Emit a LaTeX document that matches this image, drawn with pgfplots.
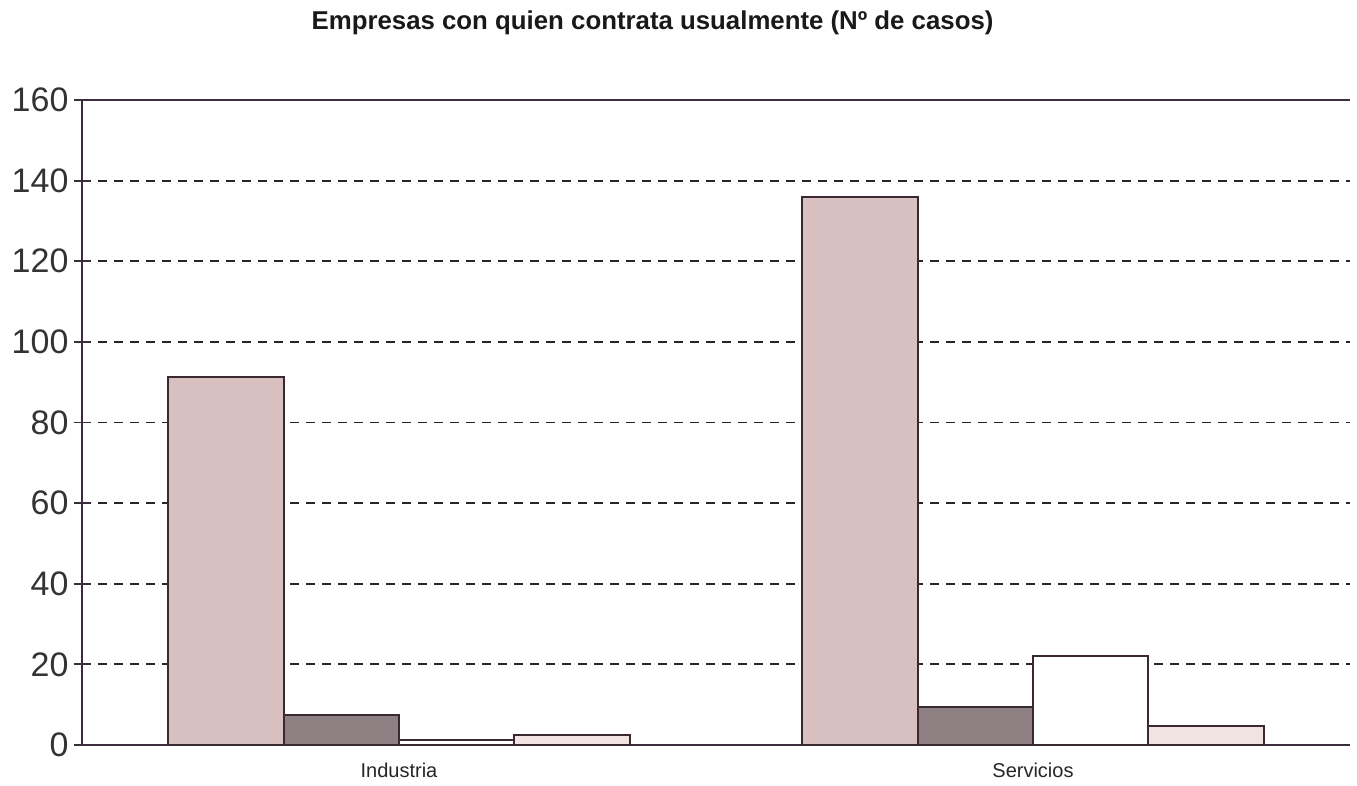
\documentclass[border=0pt]{standalone}
\usepackage{pgfplots}
\pgfplotsset{compat=1.18}
\usepackage{fontspec}
\setmainfont{Liberation Sans}
\definecolor{sA}{HTML}{D8BFC0}
\definecolor{sB}{HTML}{8E8082}
\definecolor{sC}{HTML}{FFFFFF}
\definecolor{sD}{HTML}{F2E3E3}
\definecolor{edge}{HTML}{3A2832}
\definecolor{axc}{HTML}{3C2C40}
\begin{document}
\begin{tikzpicture}
\begin{axis}[
  at={(0,0)}, anchor=south west,
  scale only axis, width=1268pt, height=645pt,
  ybar=0pt, bar width=0.182,
  xmin=-0.5, xmax=1.5, ymin=0, ymax=160,
  xtick={0,1}, xticklabels={Industria,Servicios},
  extra x ticks={-0.5,0.5,1.5}, extra x tick labels={},
  extra x tick style={major tick length=10pt, tick align=outside, grid=none},
  ytick={0,20,...,140},
  extra y ticks={160}, extra y tick style={grid=none},
  axis x line*=bottom, axis y line*=left,
  axis line style={axc, line width=2pt, -},
  x tick style={draw=none},
  y tick style={axc, line width=1.8pt},
  major tick length=16pt, tick align=center,
  ymajorgrids,
  major grid style={black!85, line width=1.8pt, dash pattern=on 9pt off 7pt},
  /pgf/number format/assume math mode=true,
  yticklabel style={font=\fontsize{34}{34}\selectfont, text=black!80, xshift=-2pt},
  xticklabel style={font=\fontsize{20}{20}\selectfont, text=black!85, yshift=-6pt},
  title={\textbf{Empresas con quien contrata usualmente (Nº de casos)}},
  title style={font=\fontsize{25.8}{26}\selectfont, at={(0.45,1)}, anchor=base, yshift=64pt, text=black!90},
  clip=false,
]
\addplot[fill=sA, draw=edge, line width=2pt] coordinates {(0,91.3) (1,136)};
\addplot[fill=sB, draw=edge, line width=2pt] coordinates {(0,7.4) (1,9.4)};
\addplot[fill=sC, draw=edge, line width=2pt] coordinates {(0,1.2) (1,22)};
\addplot[fill=sD, draw=edge, line width=2pt] coordinates {(0,2.6) (1,4.8)};
\draw[axc, line width=2pt] (rel axis cs:0,1) -- (rel axis cs:1,1);
\end{axis}
\pgfresetboundingbox
\useasboundingbox (-82pt,-41pt) rectangle (1275pt,745pt);
\end{tikzpicture}
\end{document}
